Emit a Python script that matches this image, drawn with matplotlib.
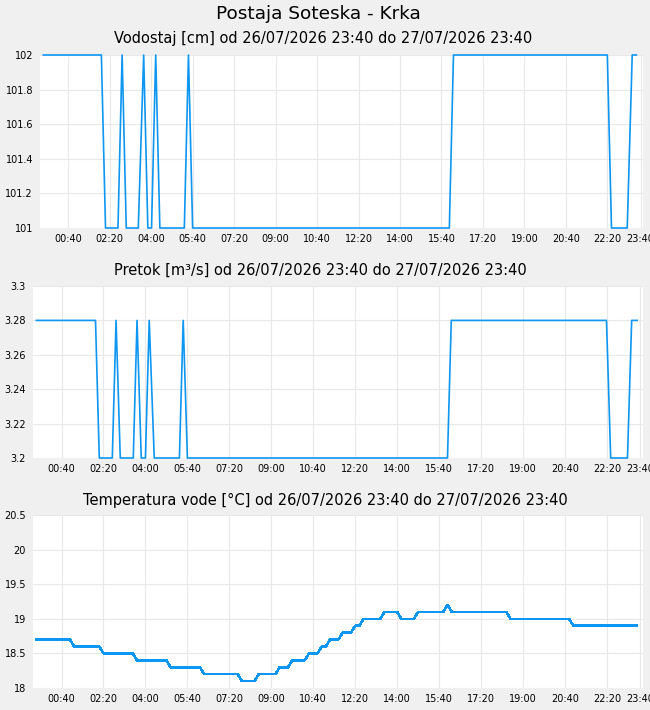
import numpy as np
import matplotlib
matplotlib.use('Agg')
import matplotlib.pyplot as plt
from matplotlib.ticker import FormatStrFormatter

# minutes after 26/07/2026 23:40
tick_pos = [60, 160, 260, 360, 460, 560, 660, 760, 860, 960, 1060, 1160, 1260, 1360, 1440]
tick_lab = ['00:40', '02:20', '04:00', '05:40', '07:20', '09:00', '10:40', '12:20',
            '14:00', '15:40', '17:20', '19:00', '20:40', '22:20', '23:40']

# vodostaj [cm]
level_t = [0, 140, 150, 180, 190, 200, 229, 242, 252, 261, 271, 281, 340, 350, 360,
           979, 989, 1360, 1370, 1408, 1420, 1430]
level_v = [102, 102, 101, 101, 102, 101, 101, 102, 101, 101, 102, 101, 101, 102, 101,
           101, 102, 102, 101, 101, 102, 102]

# pretok [m3/s]
flow_t = [0, 141, 150, 181, 190, 200, 231, 240, 250, 260, 269, 281, 341, 350, 360,
          980, 989, 1359, 1369, 1409, 1419, 1432]
flow_v = [3.28, 3.28, 3.2, 3.2, 3.28, 3.2, 3.2, 3.28, 3.2, 3.2, 3.28, 3.2, 3.2, 3.28, 3.2,
          3.2, 3.28, 3.28, 3.2, 3.2, 3.28, 3.28]

# temperatura vode [C]
temp_t = [0, 80, 90, 150, 160, 230, 240, 310, 320, 390, 400, 480, 490, 520, 530, 570,
          580, 600, 610, 640, 650, 670, 680, 690, 700, 720, 730, 750, 760, 770, 780, 820,
          830, 860, 870, 900, 910, 970, 980, 990, 1120, 1130, 1270, 1280, 1430]
temp_v = [18.7, 18.7, 18.6, 18.6, 18.5, 18.5, 18.4, 18.4, 18.3, 18.3, 18.2, 18.2, 18.1,
          18.1, 18.2, 18.2, 18.3, 18.3, 18.4, 18.4, 18.5, 18.5, 18.6, 18.6, 18.7, 18.7,
          18.8, 18.8, 18.9, 18.9, 19.0, 19.0, 19.1, 19.1, 19.0, 19.0, 19.1, 19.1, 19.2,
          19.1, 19.1, 19.0, 19.0, 18.9, 18.9]

BG = '#f0f0f0'
LINE = '#0d96f2'
GRID = '#e8e8e8'

fig = plt.figure(figsize=(6.5, 7.1), dpi=100, facecolor=BG)

def px_axes(left, top, right, bottom):
    W, H = 650.0, 710.0
    return fig.add_axes([left / W, (H - bottom) / H, (right - left) / W, (bottom - top) / H])

def setup(ax, yticks, ylim, fmt):
    ax.set_facecolor('white')
    for s in ax.spines.values():
        s.set_visible(False)
    ax.set_xlim(-8, 1446)
    ax.set_ylim(*ylim)
    ax.set_xticks(tick_pos)
    ax.set_xticklabels(tick_lab)
    ax.set_yticks(yticks)
    ax.yaxis.set_major_formatter(FormatStrFormatter(fmt))
    ax.tick_params(length=0, labelsize=7, pad=4)
    ax.tick_params(axis='y', pad=5)
    ax.grid(True, color=GRID, lw=0.8)
    ax.set_axisbelow(True)

ax1 = px_axes(40, 55, 643, 228)
ax1.plot(level_t, level_v, color=LINE, lw=1.2, clip_on=False)
setup(ax1, [101, 101.2, 101.4, 101.6, 101.8, 102], (101, 102), '%g')

ax2 = px_axes(33, 286, 643, 458)
ax2.plot(flow_t, flow_v, color=LINE, lw=1.2, clip_on=False)
setup(ax2, [3.2, 3.22, 3.24, 3.26, 3.28, 3.3], (3.2, 3.3), '%g')

ax3 = px_axes(33, 515, 643, 688)
ax3.plot(temp_t, temp_v, color=LINE, lw=1.1, antialiased=False)
setup(ax3, [18, 18.5, 19, 19.5, 20, 20.5], (18, 20.5), '%g')

fig.text(0.49, 1 - 14 / 710, 'Postaja Soteska - Krka', ha='center', va='center', fontsize=13.3)
fig.text(0.497, 1 - 39 / 710, 'Vodostaj [cm] od 26/07/2026 23:40 do 27/07/2026 23:40',
         ha='center', va='center', fontsize=10.5)
fig.text(0.493, 1 - 270 / 710, 'Pretok [m³/s] od 26/07/2026 23:40 do 27/07/2026 23:40',
         ha='center', va='center', fontsize=10.5)
fig.text(0.5, 1 - 500 / 710, 'Temperatura vode [°C] od 26/07/2026 23:40 do 27/07/2026 23:40',
         ha='center', va='center', fontsize=10.5)

fig.savefig('out.png', dpi=100, facecolor=BG)
